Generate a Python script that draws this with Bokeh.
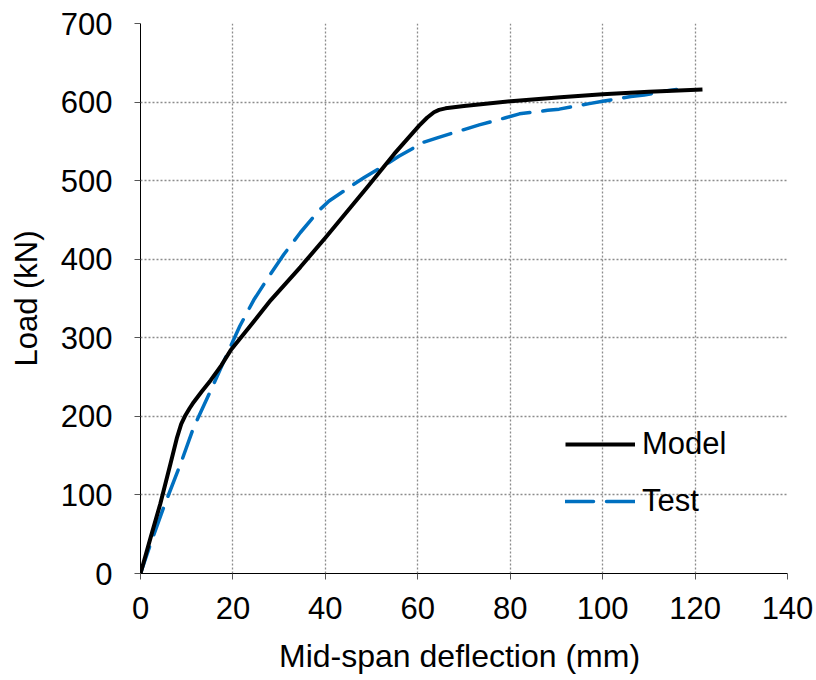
from bokeh.plotting import figure
from bokeh.models import Range1d, FixedTicker, Legend, LegendItem
from bokeh.embed import file_html
from bokeh.resources import INLINE

# Data
model_x = [0, 2.2, 4.3, 6.5, 7.9, 8.8, 9.6, 10.6, 11.5, 13.3, 15.2, 17.5, 19.5, 24.0,
           28.2, 34.6, 40.1, 49.1, 54.9, 60.3, 62.0, 63.5, 64.6, 66.0, 70.0, 80.1,
           90.9, 100.0, 110.0, 121.6]
model_y = [0, 46, 89, 140, 173, 190, 200, 210, 218, 232, 246, 265, 284, 317,
           348, 390, 428, 492, 534, 570, 580, 587, 590, 592, 595, 601,
           606, 610, 613, 616]

test_x = [0, 2.2, 5.0, 8.7, 11.5, 15.2, 18.8, 21.5, 24.5, 28.0, 31.0, 34.6, 38.6,
          40.8, 45.8, 48.4, 53.8, 55.9, 61.3, 64.2, 70.0, 73.3, 79.0, 82.0, 88.1,
          90.6, 97.1, 100.0, 106.1, 109.0, 114.0, 116.0]
test_y = [0, 38, 84, 140, 186, 233, 280, 315, 348, 380, 406, 434, 462,
          474, 494, 504, 523, 531, 549, 554.5, 565, 571, 580, 585, 589.5,
          591, 598, 601, 607, 609, 614.5, 616]

x_ticks = [0, 20, 40, 60, 80, 100, 120, 140]
y_ticks = [0, 100, 200, 300, 400, 500, 600, 700]

FONT = "Liberation Sans"
FS = "31px"

p = figure(width=816, height=680, output_backend="svg", toolbar_location=None,
           x_range=Range1d(0, 140), y_range=Range1d(0, 700),
           min_border_left=140, min_border_right=29, min_border_top=23,
           min_border_bottom=107)
p.outline_line_color = None
p.background_fill_color = "white"
p.border_fill_color = "white"

p.xaxis.ticker = FixedTicker(ticks=x_ticks)
p.yaxis.ticker = FixedTicker(ticks=y_ticks)
for ax in (p.xaxis[0], p.yaxis[0]):
    ax.axis_line_color = "black"
    ax.axis_line_width = 1
    ax.major_tick_in = 0
    ax.major_tick_out = 6
    ax.major_tick_line_color = "#555555"
    ax.minor_tick_line_color = None
    ax.major_label_text_font = FONT
    ax.major_label_text_font_size = FS
    ax.major_label_text_color = "black"
    ax.axis_label_text_font = FONT
    ax.axis_label_text_font_size = FS
    ax.axis_label_text_font_style = "normal"
    ax.axis_label_text_color = "black"

p.xaxis.axis_label = "Mid-span deflection  (mm)"
p.xaxis.axis_label_text_font_size = "32px"
p.yaxis.axis_label = "Load (kN)"
p.xaxis.major_label_standoff = 17
p.yaxis.major_label_standoff = 22
p.xaxis.axis_label_standoff = 16
p.yaxis.axis_label_standoff = 14

for g in (p.xgrid[0], p.ygrid[0]):
    g.grid_line_color = "#8c8c8c"
    g.grid_line_dash = "2 2"
    g.grid_line_width = 1.3

r_test = p.line(test_x, test_y, line_color="#0070C0", line_width=3.5,
                line_dash="28 13", line_cap="round", line_join="round")
r_model = p.line(model_x, model_y, line_color="black", line_width=4,
                 line_join="round")

legend = Legend(items=[LegendItem(label="Model", renderers=[r_model]),
                       LegendItem(label="Test", renderers=[r_test])],
                location=(425, 54), orientation="vertical",
                glyph_width=70, glyph_height=36, spacing=21, padding=0, margin=0,
                label_standoff=7, label_text_font=FONT, label_text_font_size=FS,
                label_height=36,
                label_text_color="black", border_line_color=None,
                background_fill_alpha=0)
p.add_layout(legend, "center")

open("out.html", "w").write(file_html(p, INLINE))
